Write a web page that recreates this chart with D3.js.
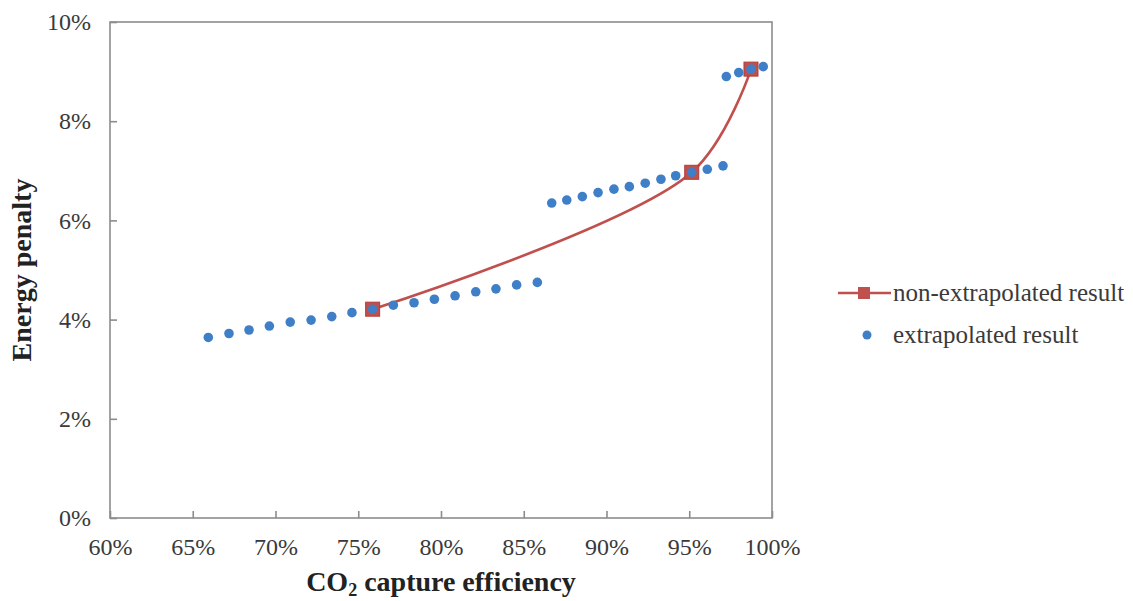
<!DOCTYPE html>
<html><head><meta charset="utf-8">
<script src="https://cdn.jsdelivr.net/npm/d3@7"></script>
<style>
html,body{margin:0;padding:0;background:#fff;}
text{font-family:"Liberation Serif","Times New Roman",serif;}
</style></head>
<body><svg id="c" width="1133" height="601"></svg>
<script>
// Data (percent values)
const nonExtrapX = [75.87, 95.15, 98.73];
const nonExtrapY = [4.21, 6.97, 9.05];
const extrapX = [65.94, 67.19, 68.40, 69.63, 70.89, 72.15, 73.40, 74.62, 75.87, 77.12, 78.37, 79.60, 80.85, 82.10, 83.32, 84.57, 85.82,
                 86.69, 87.60, 88.54, 89.49, 90.45, 91.38, 92.34, 93.29, 94.18, 95.15, 96.09, 97.04,
                 97.24, 97.99, 98.73, 99.47];
const extrapY = [3.64, 3.72, 3.79, 3.87, 3.95, 3.99, 4.06, 4.14, 4.21, 4.29, 4.34, 4.41, 4.48, 4.56, 4.62, 4.70, 4.75,
                 6.35, 6.41, 6.48, 6.56, 6.63, 6.68, 6.75, 6.83, 6.90, 6.97, 7.03, 7.10,
                 8.90, 8.98, 9.05, 9.10];
const xTicks = [60, 65, 70, 75, 80, 85, 90, 95, 100];
const yTicks = [0, 2, 4, 6, 8, 10];
const seriesNames = ["non-extrapolated result", "extrapolated result"];

const svg = d3.select("#c");
const L = 110, R = 772, T = 22, B = 518;
const x = d3.scaleLinear().domain([60, 100]).range([L, R]);
const y = d3.scaleLinear().domain([0, 10]).range([B, T]);
const red = "#C0504D", blue = "#3F7FC8", axisCol = "#8c8c8c", txt = "#3a3a3a";

// frame
svg.append("rect").attr("x", L).attr("y", T).attr("width", R - L).attr("height", B - T)
  .attr("fill", "none").attr("stroke", axisCol).attr("stroke-width", 1.6);

// x axis
const gx = svg.append("g").attr("transform", `translate(0,${B})`)
  .call(d3.axisBottom(x).tickValues(xTicks).tickSize(-7).tickPadding(20).tickFormat(d => d + "%"));
gx.select(".domain").remove();
gx.selectAll("line").attr("stroke", axisCol).attr("stroke-width", 1.6);
gx.selectAll("text").attr("font-size", 24).attr("fill", txt).attr("font-family", "Liberation Serif");

// y axis
const gy = svg.append("g").attr("transform", `translate(${L},0)`)
  .call(d3.axisLeft(y).tickValues(yTicks).tickSize(-7).tickPadding(19).tickFormat(d => d + "%"));
gy.select(".domain").remove();
gy.selectAll("line").attr("stroke", axisCol).attr("stroke-width", 1.6);
gy.selectAll("text").attr("font-size", 24).attr("fill", txt).attr("font-family", "Liberation Serif");

// axis titles
const xt = svg.append("text").attr("x", (L + R) / 2).attr("y", 591).attr("text-anchor", "middle")
  .attr("font-size", 28).attr("font-weight", "bold").attr("fill", "#222");
xt.append("tspan").text("CO");
xt.append("tspan").text("2").attr("font-size", 18).attr("dy", 5);
xt.append("tspan").text(" capture efficiency").attr("dy", -5);

svg.append("text").attr("transform", "translate(31,270) rotate(-90)").attr("text-anchor", "middle")
  .attr("font-size", 28).attr("font-weight", "bold").attr("fill", "#222").text("Energy penalty");

// red smoothed line
const ne = nonExtrapX.map((v, i) => [v, nonExtrapY[i]]);
svg.append("path").datum(ne)
  .attr("d", d3.line().x(d => x(d[0])).y(d => y(d[1])).curve(d3.curveCatmullRom.alpha(0.5)))
  .attr("fill", "none").attr("stroke", red).attr("stroke-width", 2.6);
svg.selectAll(".sq").data(ne).enter().append("rect")
  .attr("x", d => x(d[0]) - 7).attr("y", d => y(d[1]) - 7).attr("width", 14).attr("height", 14)
  .attr("fill", red).attr("stroke", "#b03c39").attr("stroke-width", 1);

// blue dots
const ex = extrapX.map((v, i) => [v, extrapY[i]]);
svg.selectAll(".dot").data(ex).enter().append("circle")
  .attr("cx", d => x(d[0])).attr("cy", d => y(d[1])).attr("r", 4.8).attr("fill", blue);

// legend
const lg = svg.append("g");
lg.append("line").attr("x1", 838).attr("x2", 891).attr("y1", 293).attr("y2", 293)
  .attr("stroke", red).attr("stroke-width", 2.6);
lg.append("rect").attr("x", 858).attr("y", 287).attr("width", 12).attr("height", 12).attr("fill", red);
lg.append("text").attr("x", 893).attr("y", 301).attr("font-size", 25).attr("fill", txt).text(seriesNames[0]);
lg.append("circle").attr("cx", 867).attr("cy", 335).attr("r", 4.5).attr("fill", blue);
lg.append("text").attr("x", 893).attr("y", 343).attr("font-size", 25).attr("fill", txt).text(seriesNames[1]);
</script></body></html>
